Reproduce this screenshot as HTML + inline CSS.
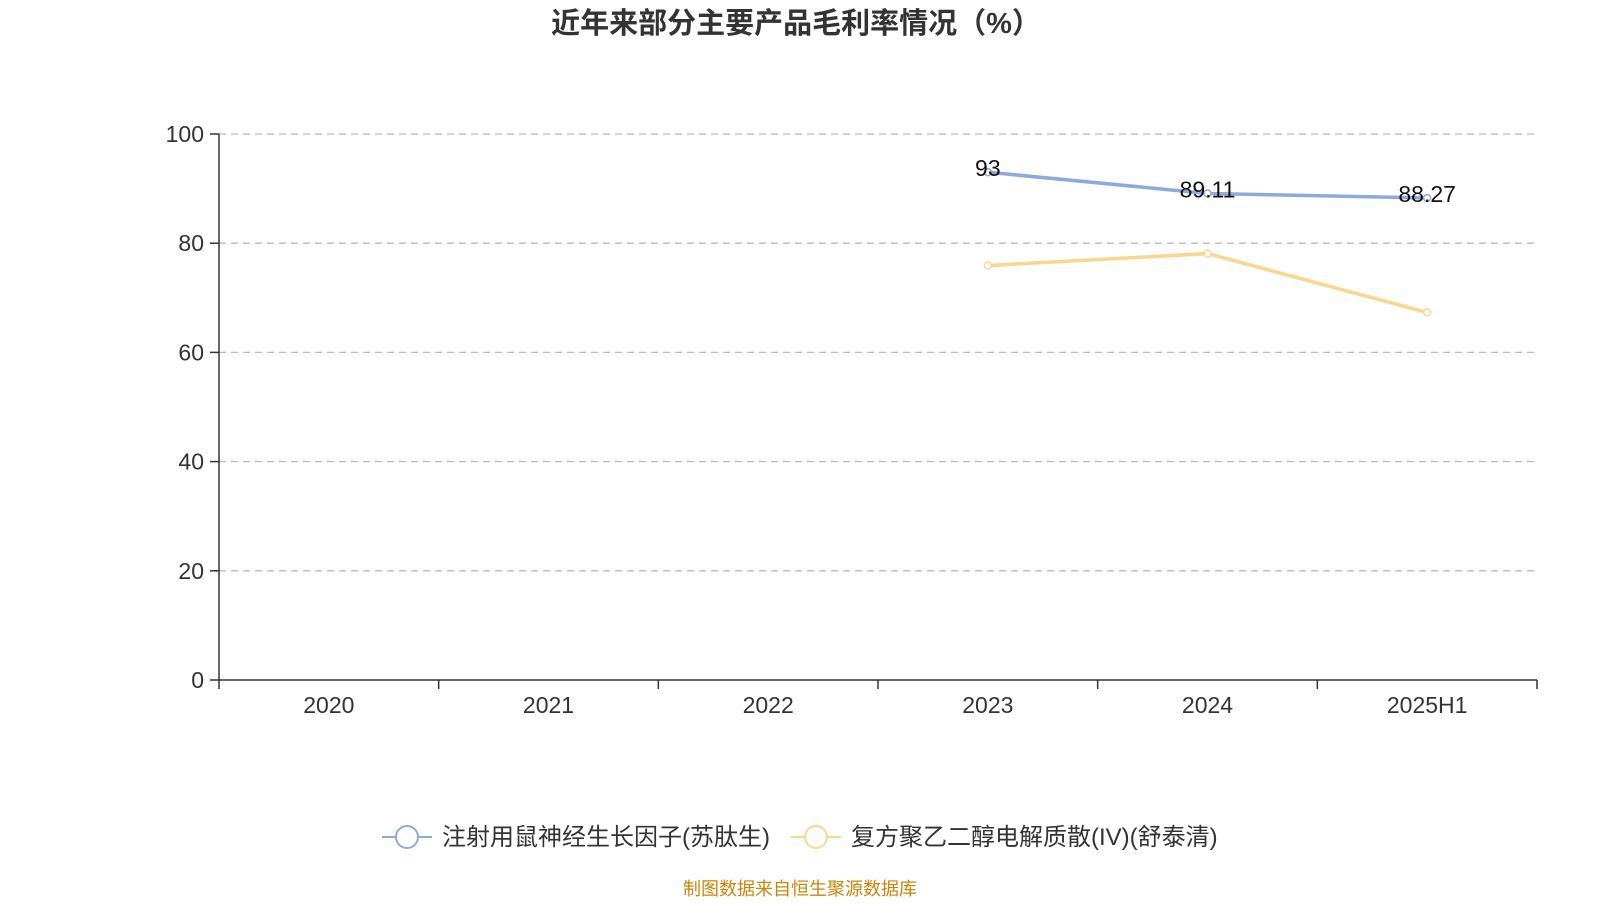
<!DOCTYPE html>
<html><head><meta charset="utf-8"><style>
body{margin:0;background:#fff;width:1600px;height:900px;overflow:hidden;font-family:"Liberation Sans","Noto Sans CJK SC",sans-serif;}
</style></head><body>
<svg id="chart" width="1600" height="900" xmlns="http://www.w3.org/2000/svg">
<text x="796" y="33" text-anchor="middle" font-size="29" font-weight="bold" fill="#333" font-family="Liberation Sans, Noto Sans CJK SC, sans-serif">近年来部分主要产品毛利率情况（%）</text>
<g id="grid"></g><g id="axes"></g><g id="series"></g>
<g>
<g>
<line x1="382" y1="837" x2="432" y2="837" stroke="#8eaadc" stroke-width="2"/>
<circle cx="407" cy="837" r="11" fill="#fff" stroke="#8eaadc" stroke-width="2"/>
<text x="442" y="845" font-size="24" fill="#333">注射用鼠神经生长因子(苏肽生)</text></g>
<g>
<line x1="791" y1="837" x2="841" y2="837" stroke="#fbd68e" stroke-width="2"/>
<circle cx="816" cy="837" r="11" fill="#fff" stroke="#fbd68e" stroke-width="2"/>
<text x="851" y="845" font-size="24" fill="#333">复方聚乙二醇电解质散(IV)(舒泰清)</text></g>
</g>
<text x="800" y="895" text-anchor="middle" font-size="18" fill="#c8860a">制图数据来自恒生聚源数据库</text>
</svg>
<script>
const categories=["2020","2021","2022","2023","2024","2025H1"];
const yTicks=[0,20,40,60,80,100];
const series1=[null,null,null,93,89.11,88.27];
const series1Labels=["","","","93","89.11","88.27"];
const series2=[null,null,null,75.9,78.1,67.3];
const NS="http://www.w3.org/2000/svg";
const L=219,R=1537,T=134,B=680;
const band=(R-L)/categories.length;
const x=i=>L+band*(i+0.5);
const y=v=>B-(v/100)*(B-T);
function mk(tag,attrs,parent,text){const e=document.createElementNS(NS,tag);for(const k in attrs)e.setAttribute(k,attrs[k]);if(text!==undefined)e.textContent=text;parent.appendChild(e);return e;}
const grid=document.getElementById('grid'),axes=document.getElementById('axes'),ser=document.getElementById('series');
yTicks.forEach(t=>{
  if(t>0){const g=mk('line',{x1:L,x2:R,y1:y(t),y2:y(t),stroke:'#bbb','stroke-width':1.3,'stroke-dasharray':'7,5'},grid);
  
  }
  mk('line',{x1:L-9,x2:L,y1:y(t),y2:y(t),stroke:'#333','stroke-width':1.5},axes);
  const lb=mk('text',{x:L-15,y:y(t)+8,'text-anchor':'end','font-size':23,fill:'#333'},axes,t);
  
  
});
const ya=mk('line',{x1:L,x2:L,y1:T,y2:B,stroke:'#333','stroke-width':1.5},axes);


const xa=mk('line',{x1:L,x2:R,y1:B,y2:B,stroke:'#333','stroke-width':1.5},axes);


categories.forEach((c,i)=>{
  mk('line',{x1:L+band*i,x2:L+band*i,y1:B,y2:B+9,stroke:'#333','stroke-width':1.5},axes);
  const lb=mk('text',{x:x(i),y:B+33,'text-anchor':'middle','font-size':23,fill:'#333'},axes,c);
  
  
});
mk('line',{x1:R,x2:R,y1:B,y2:B+9,stroke:'#333','stroke-width':1.5},axes);
function drawSeries(vals,color,name,labels){
  const pts=vals.map((v,i)=>v==null?null:[x(i),y(v)]).filter(p=>p);
  const pl=mk('polyline',{points:pts.map(p=>p.join(',')).join(' '),fill:'none',stroke:color,'stroke-width':3.5},ser);
  
  
  vals.forEach((v,i)=>{if(v==null)return;
    const c=mk('circle',{cx:x(i),cy:y(v),r:3.5,fill:'#fff',stroke:color,'stroke-width':1.5},ser);
    
    
    if(labels){const t=mk('text',{x:x(i),y:y(v)+4,'text-anchor':'middle','font-size':23,fill:'#111'},ser,labels[i]);
      
      }
  });
}
drawSeries(series2,'#fbd68e','series-2');
drawSeries(series1,'#8eaadc','series-1',series1Labels);
</script>
</body></html>
